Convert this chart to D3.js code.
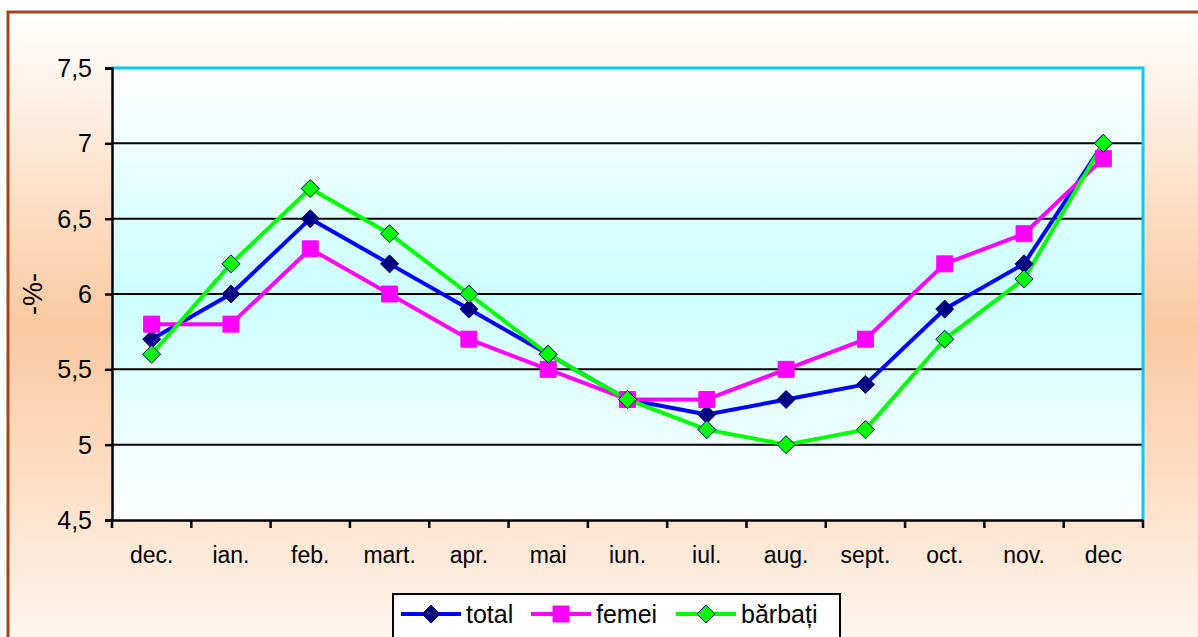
<!DOCTYPE html>
<html><head><meta charset="utf-8">
<script src="https://cdn.jsdelivr.net/npm/d3@7"></script>
<style>body{margin:0;overflow:hidden;background:#fff}svg{display:block;font-family:Arial,"Liberation Sans",sans-serif}</style>
</head><body><svg id="c" width="1198" height="637"></svg>
<script>
const categories = ["dec.","ian.","feb.","mart.","apr.","mai","iun.","iul.","aug.","sept.","oct.","nov.","dec"];
const total   = [5.7,6.0,6.5,6.2,5.9,5.6,5.3,5.2,5.3,5.4,5.9,6.2,7.0];
const femei   = [5.8,5.8,6.3,6.0,5.7,5.5,5.3,5.3,5.5,5.7,6.2,6.4,6.9];
const barbati = [5.6,6.2,6.7,6.4,6.0,5.6,5.3,5.1,5.0,5.1,5.7,6.1,7.0];
const yTicks = [4.5,5,5.5,6,6.5,7,7.5];
const seriesNames = ["total","femei","bărbați"];

const FONT = "Arial,'Liberation Sans',sans-serif";
const svg = d3.select("#c");
const defs = svg.append("defs");
const g1 = defs.append("linearGradient").attr("id","bg").attr("x1",0).attr("y1",0).attr("x2",0).attr("y2",1);
g1.append("stop").attr("offset","0%").attr("stop-color","#ffffff");
g1.append("stop").attr("offset","45%").attr("stop-color","#fbc9a0");
g1.append("stop").attr("offset","100%").attr("stop-color","#ffffff");
const g2 = defs.append("linearGradient").attr("id","pg").attr("x1",0).attr("y1",0).attr("x2",0).attr("y2",1);
g2.append("stop").attr("offset","0%").attr("stop-color","#ffffff");
g2.append("stop").attr("offset","50%").attr("stop-color","#ccffff");
g2.append("stop").attr("offset","100%").attr("stop-color","#ffffff");

svg.append("rect").attr("x",8).attr("y",12).attr("width",1250).attr("height",700)
  .attr("fill","url(#bg)").attr("stroke","#a0461e").attr("stroke-width",3);

const L=112,T=68,R=1143,B=520;
const x = d3.scaleBand().domain(categories).range([L,R]);
const y = d3.scaleLinear().domain([4.5,7.5]).range([B,T]);

svg.append("rect").attr("x",L).attr("y",T).attr("width",R-L).attr("height",B-T).attr("fill","url(#pg)");

svg.append("g").selectAll("line").data(yTicks.filter(v=>v>4.5&&v<7.5)).join("line")
  .attr("x1",L).attr("x2",R).attr("y1",d=>y(d)).attr("y2",d=>y(d))
  .attr("stroke","#000").attr("stroke-width",2);
svg.append("path").attr("d",`M${L},${T}H${R}V${B}`).attr("fill","none").attr("stroke","#00ccff").attr("stroke-width",3);

const ya = svg.append("g").attr("transform",`translate(${L},0)`)
  .call(d3.axisLeft(y).tickValues(yTicks).tickSize(7).tickPadding(13).tickFormat(d=>String(d).replace(".",",")));
ya.attr("font-size",25).attr("font-family",FONT);
ya.select(".domain").attr("stroke","#000").attr("stroke-width",2.5);
ya.selectAll(".tick line").attr("stroke","#000").attr("stroke-width",2.5);
ya.selectAll("text").attr("fill","#000").attr("dy","0.34em");

const xa = svg.append("g").attr("transform",`translate(0,${B})`)
  .call(d3.axisBottom(x).tickSize(0).tickPadding(27));
xa.attr("font-size",23).attr("font-family",FONT);
xa.select(".domain").attr("stroke","#000").attr("stroke-width",2.5);
xa.selectAll("text").attr("fill","#000");
const bounds = categories.map(c=>x(c)).concat([R]);
svg.append("g").selectAll("line").data(bounds).join("line")
  .attr("x1",d=>d).attr("x2",d=>d).attr("y1",B).attr("y2",B+8).attr("stroke","#000").attr("stroke-width",2.5);

svg.append("text").attr("transform","translate(42,294) rotate(-90)").attr("text-anchor","middle")
  .attr("font-size",27).attr("font-family",FONT).text("-%-");

const cx = c => x(c)+x.bandwidth()/2;
const series = [
  {name:seriesNames[0], vals:total, line:"#0000ff", fill:"#000080", stroke:"#000080", shape:"diamond"},
  {name:seriesNames[1], vals:femei, line:"#ff00ff", fill:"#ff00ff", stroke:"#ff00ff", shape:"square"},
  {name:seriesNames[2], vals:barbati, line:"#00ff00", fill:"#00ff00", stroke:"#000080", shape:"diamond"}
];
const lineGen = d3.line().x((d,i)=>cx(categories[i])).y(d=>y(d));
const diamond = s => `M0,${-s}L${s},0L0,${s}L${-s},0Z`;
const square = s => `M${-s},${-s}H${s}V${s}H${-s}Z`;
function marker(sel, s){
  sel.append("path").attr("d", s.shape==="diamond"?diamond(9):square(8))
    .attr("fill",s.fill).attr("stroke",s.stroke).attr("stroke-width",1);
}
series.forEach(s=>{
  svg.append("path").datum(s.vals).attr("d",lineGen).attr("fill","none")
    .attr("stroke",s.line).attr("stroke-width",4).attr("stroke-linejoin","round");
});
series.forEach(s=>{
  s.vals.forEach((v,i)=>{
    const m = svg.append("g").attr("transform",`translate(${cx(categories[i])},${y(v)})`);
    marker(m,s);
  });
});

const lg = svg.append("g").attr("font-family",FONT);
lg.append("rect").attr("x",393).attr("y",594).attr("width",447).attr("height",60)
  .attr("fill","#fff").attr("stroke","#000").attr("stroke-width",2);
const lx = [401,531,676];
series.forEach((s,i)=>{
  const gx = lx[i], gy = 614;
  lg.append("line").attr("x1",gx).attr("x2",gx+60).attr("y1",gy).attr("y2",gy).attr("stroke",s.line).attr("stroke-width",4);
  const m = lg.append("g").attr("transform",`translate(${gx+30},${gy})`);
  marker(m,s);
  lg.append("text").attr("x",gx+65).attr("y",gy+9).attr("font-size",25).text(s.name);
});
</script></body></html>
